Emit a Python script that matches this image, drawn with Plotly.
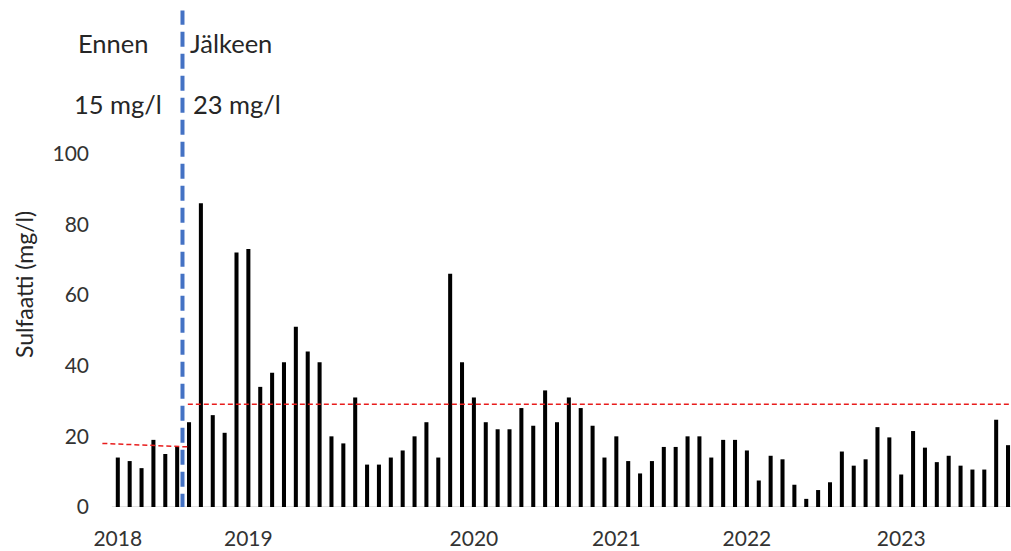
import plotly.graph_objects as go

# Monthly sulphate samples (mg/l), in sampling order
sulfaatti = [
    14, 13, 11, 19, 15, 17, 24, 86, 26, 21, 72, 73, 34, 38, 41, 51, 44, 41, 20, 18,
    31, 12, 12, 14, 16, 20, 24, 14, 66, 41, 31, 24, 22, 22, 28, 23, 33, 24, 31, 28,
    23, 14, 20, 13, 9.5, 13, 17, 17, 20, 20, 14, 19, 19, 16, 7.5, 14.5, 13.5, 6.3, 2.3, 4.8,
    7, 15.7, 11.7, 13.5, 22.6, 19.7, 9.2, 21.5, 16.8, 12.7, 14.5, 11.7, 10.6, 10.6, 24.7, 17.5,
]

# First sample of each year
year_start_index = [0, 11, 30, 42, 53, 66]
year_labels = ["2018", "2019", "2020", "2021", "2022", "2023"]

# Level lines before and after the change
before_x = [-1.3, 6.0]
before_level = [18.0, 17.0]
after_x = [5.9, 76.0]
after_level = [29.1, 29.1]
change_at = 5.45

before_text = ["Ennen", "15 mg/l"]
after_text = ["Jälkeen", "23 mg/l"]

FONT = "Lato"
TXT = "#262626"
TICK = "#333333"
n = len(sulfaatti)

fig = go.Figure()
fig.add_trace(go.Bar(
    x=list(range(n)), y=sulfaatti, width=0.34,
    marker=dict(color="black", line=dict(width=0)),
    showlegend=False,
))
fig.add_trace(go.Scatter(
    x=before_x, y=before_level, mode="lines",
    line=dict(color="#e81c1c", width=1.5, dash="5px,3px"), showlegend=False,
))
fig.add_trace(go.Scatter(
    x=after_x, y=after_level, mode="lines",
    line=dict(color="#e81c1c", width=1.5, dash="5px,3px"), showlegend=False,
))

# Category axis baseline
fig.add_shape(type="line", xref="x", yref="y", x0=-0.5, x1=n - 0.5, y0=0, y1=0,
              line=dict(color="#d9d9d9", width=1.5), layer="below")
# Change marker
fig.add_shape(type="line", xref="x", yref="y", x0=change_at, x1=change_at, y0=-0.5, y1=140.5,
              line=dict(color="#4472c4", width=4, dash="15px,7px"))

# Labels on both sides of the change marker
label_rows = [131.4, 114.0]
left_shift = [-31, -18]
right_shift = [6, 9]
for i, (b, a) in enumerate(zip(before_text, after_text)):
    fig.add_annotation(x=change_at, y=label_rows[i], xref="x", yref="y", text=b, showarrow=False,
                       xanchor="right", xshift=left_shift[i],
                       font=dict(family=FONT, size=25.5, color=TXT))
    fig.add_annotation(x=change_at, y=label_rows[i], xref="x", yref="y", text=a, showarrow=False,
                       xanchor="left", xshift=right_shift[i],
                       font=dict(family=FONT, size=25.5, color=TXT))

fig.add_annotation(x=0, y=62.8, xref="paper", yref="y", text="Sulfaatti (mg/l)",
                   textangle=-90, showarrow=False, xanchor="center", xshift=-76,
                   font=dict(family=FONT, size=23, color=TXT))

fig.update_layout(
    width=1011, height=551,
    margin=dict(l=99.5, r=0, t=0, b=44.3),
    plot_bgcolor="white", paper_bgcolor="white",
    font=dict(family=FONT, size=21, color=TICK),
    xaxis=dict(range=[-1.5, 75.25], tickvals=year_start_index, ticktext=year_labels,
               showgrid=False, zeroline=False, showline=False, ticks="", automargin=False,
               ticklabelstandoff=17, tickfont=dict(family=FONT, size=21, color=TICK)),
    yaxis=dict(range=[0, 143.5], tickvals=[0, 20, 40, 60, 80, 100],
               showgrid=False, zeroline=False, showline=False, ticks="", automargin=False,
               ticklabelstandoff=10, tickfont=dict(family=FONT, size=21, color=TICK)),
)

fig.write_html("out.html")
